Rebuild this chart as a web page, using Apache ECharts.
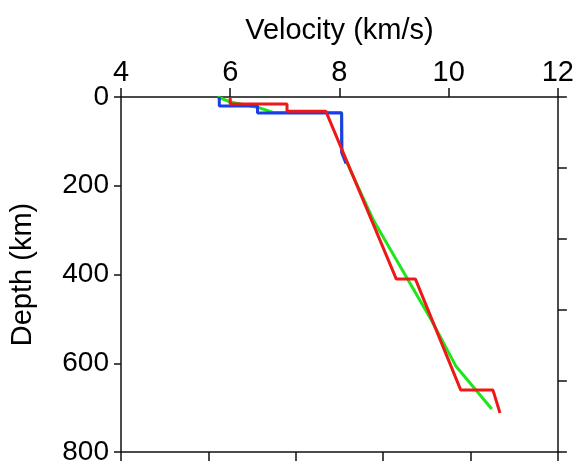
<!DOCTYPE html>
<html>
<head>
<meta charset="utf-8">
<script src="https://cdn.jsdelivr.net/npm/echarts@6/dist/echarts.min.js"></script>
<style>
  html, body { margin: 0; padding: 0; background: #fff; }
  #velChart { width: 577px; height: 466px; }
</style>
</head>
<body>
<div id="velChart"></div>
<script>
// velocity (km/s) and depth (km) for the three models
var blueVel   = [5.8, 5.8, 6.5, 6.5, 8.04, 8.04, 8.12];
var blueDepth = [0, 20, 20, 36, 36, 125, 150];

var greenVel   = [5.77, 6.0, 6.55, 6.78, 8.04, 8.05, 8.62, 9.68, 10.13, 10.79];
var greenDepth = [0, 11, 25, 35, 35, 125, 277, 502, 606, 703];

var redVel   = [6.0, 6.0, 7.04, 7.04, 7.75, 9.04, 9.39, 10.22, 10.81, 10.94];
var redDepth = [0, 16, 16, 32, 32, 410, 410, 660, 660, 712];

var velTicks = [4, 6, 8, 10, 12];
var depthTicks = [0, 200, 400, 600, 800];

function pairs(xs, ys) {
    var out = [];
    for (var i = 0; i < xs.length; i++) {
        out.push([xs[i], ys[i]]);
    }
    return out;
}

var myChart = echarts.init(document.getElementById('velChart'));
var axisColor = '#111';
var fontName = 'Liberation Sans';

var option = {
    animation: false,
    backgroundColor: '#fff',
    grid: { left: 120, right: 18, top: 97, bottom: 14 },
    xAxis: [
        {
            type: 'value',
            position: 'top',
            min: velTicks[0],
            max: velTicks[velTicks.length - 1],
            interval: 2,
            name: 'Velocity (km/s)',
            nameLocation: 'middle',
            nameGap: 52,
            nameTextStyle: { fontSize: 29, color: '#000', fontFamily: fontName },
            axisLine: { show: true, onZero: false, lineStyle: { color: axisColor, width: 1.5 } },
            axisTick: { show: true, inside: false, length: 9, lineStyle: { color: axisColor, width: 1.5 } },
            axisLabel: { fontSize: 29, color: '#000', margin: 10, fontFamily: fontName },
            splitLine: { show: false }
        },
        {
            // unlabeled frame axis at the bottom
            type: 'value',
            position: 'bottom',
            min: 0,
            max: 5,
            interval: 1,
            axisLine: { show: true, onZero: false, lineStyle: { color: axisColor, width: 1.5 } },
            axisTick: { show: true, inside: false, length: 9, lineStyle: { color: axisColor, width: 1.5 } },
            axisLabel: { show: false },
            splitLine: { show: false }
        }
    ],
    yAxis: [
        {
            type: 'value',
            position: 'left',
            inverse: true,
            min: depthTicks[0],
            max: depthTicks[depthTicks.length - 1],
            interval: 200,
            name: 'Depth (km)',
            nameLocation: 'middle',
            nameGap: 84,
            nameRotate: 90,
            nameTextStyle: { fontSize: 29, color: '#000', fontFamily: fontName },
            axisLine: { show: true, onZero: false, lineStyle: { color: axisColor, width: 1.5 } },
            axisTick: { show: true, inside: false, length: 7, lineStyle: { color: axisColor, width: 1.5 } },
            axisLabel: { fontSize: 28, color: '#000', margin: 12, fontFamily: fontName },
            splitLine: { show: false }
        },
        {
            // unlabeled frame axis on the right
            type: 'value',
            position: 'right',
            inverse: true,
            min: 0,
            max: 5,
            interval: 1,
            axisLine: { show: true, onZero: false, lineStyle: { color: axisColor, width: 1.5 } },
            axisTick: { show: true, inside: false, length: 9, lineStyle: { color: axisColor, width: 1.5 } },
            axisLabel: { show: false },
            splitLine: { show: false }
        }
    ],
    series: [
        {
            name: 'green',
            type: 'line',
            xAxisIndex: 0,
            yAxisIndex: 0,
            symbol: 'none',
            data: pairs(greenVel, greenDepth),
            lineStyle: { color: '#1ee61a', width: 3 },
            z: 2
        },
        {
            name: 'blue',
            type: 'line',
            xAxisIndex: 0,
            yAxisIndex: 0,
            symbol: 'none',
            data: pairs(blueVel, blueDepth),
            lineStyle: { color: '#1a3ee8', width: 3 },
            z: 3
        },
        {
            name: 'red',
            type: 'line',
            xAxisIndex: 0,
            yAxisIndex: 0,
            symbol: 'none',
            data: pairs(redVel, redDepth),
            lineStyle: { color: '#ee1818', width: 3 },
            z: 4
        }
    ]
};
myChart.setOption(option);
</script>
</body>
</html>
